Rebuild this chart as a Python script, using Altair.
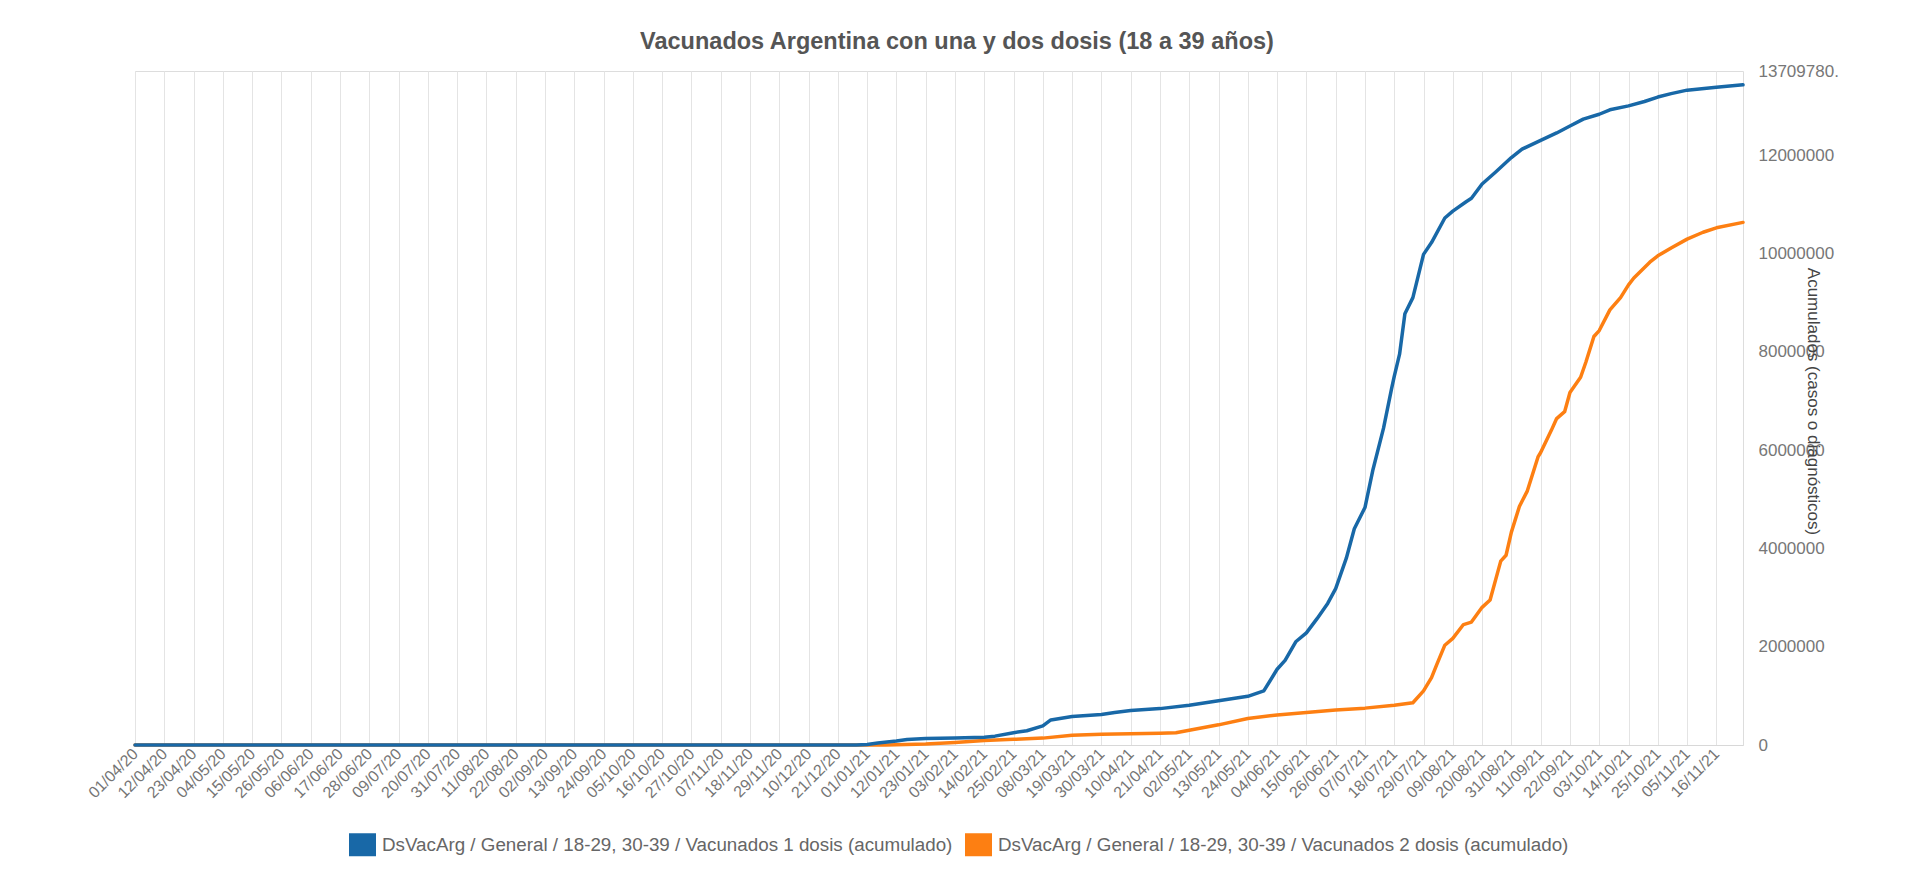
import altair as alt
import pandas as pd

FONT = "Liberation Sans"
TITLE = "Vacunados Argentina con una y dos dosis (18 a 39 años)"
Y_TITLE = "Acumulados (casos o diagnósticos)"
SERIES = [
    "DsVacArg / General / 18-29, 30-39 / Vacunados 1 dosis (acumulado)",
    "DsVacArg / General / 18-29, 30-39 / Vacunados 2 dosis (acumulado)",
]
COLORS = ["#1868a7", "#fd7f12"]

X_TICK_LABELS = [
    "01/04/20", "12/04/20", "23/04/20", "04/05/20", "15/05/20", "26/05/20",
    "06/06/20", "17/06/20", "28/06/20", "09/07/20", "20/07/20", "31/07/20",
    "11/08/20", "22/08/20", "02/09/20", "13/09/20", "24/09/20", "05/10/20",
    "16/10/20", "27/10/20", "07/11/20", "18/11/20", "29/11/20", "10/12/20",
    "21/12/20", "01/01/21", "12/01/21", "23/01/21", "03/02/21", "14/02/21",
    "25/02/21", "08/03/21", "19/03/21", "30/03/21", "10/04/21", "21/04/21",
    "02/05/21", "13/05/21", "24/05/21", "04/06/21", "15/06/21", "26/06/21",
    "07/07/21", "18/07/21", "29/07/21", "09/08/21", "20/08/21", "31/08/21",
    "11/09/21", "22/09/21", "03/10/21", "14/10/21", "25/10/21", "05/11/21",
    "16/11/21",
]
X_END_LABEL = "26/11/21"
Y_TICKS = [0, 2000000, 4000000, 6000000, 8000000, 10000000, 12000000, 13709780]
Y_MAX = 13709780

dosis1_dates = [
    "2020-04-01", "2020-12-28", "2021-01-01", "2021-01-05", "2021-01-12",
    "2021-01-16", "2021-01-23", "2021-02-03", "2021-02-14", "2021-02-18",
    "2021-02-25", "2021-03-02", "2021-03-08", "2021-03-11", "2021-03-19",
    "2021-03-30", "2021-04-04", "2021-04-10", "2021-04-21", "2021-05-02",
    "2021-05-13", "2021-05-24", "2021-05-30", "2021-06-04", "2021-06-07",
    "2021-06-11", "2021-06-15", "2021-06-19", "2021-06-23", "2021-06-26",
    "2021-06-30", "2021-07-03", "2021-07-07", "2021-07-10", "2021-07-14",
    "2021-07-17", "2021-07-18", "2021-07-20", "2021-07-22", "2021-07-25",
    "2021-07-29", "2021-08-01", "2021-08-06", "2021-08-09", "2021-08-14",
    "2021-08-16", "2021-08-20", "2021-08-25", "2021-08-31", "2021-09-04",
    "2021-09-11", "2021-09-17", "2021-09-22", "2021-09-27", "2021-10-03",
    "2021-10-07", "2021-10-14", "2021-10-20", "2021-10-25", "2021-10-30",
    "2021-11-05", "2021-11-16", "2021-11-26",
]
dosis1_values = [
    0, 0, 10000, 40000, 80000,
    110000, 130000, 140000, 160000, 180000,
    250000, 290000, 390000, 510000, 580000,
    620000, 660000, 700000, 740000, 810000,
    900000, 990000, 1100000, 1540000, 1720000,
    2100000, 2280000, 2570000, 2880000, 3180000,
    3800000, 4400000, 4830000, 5600000, 6450000,
    7250000, 7500000, 7950000, 8770000, 9100000,
    9980000, 10220000, 10720000, 10860000, 11050000,
    11120000, 11410000, 11650000, 11950000, 12120000,
    12300000, 12450000, 12590000, 12730000, 12830000,
    12920000, 13000000, 13090000, 13180000, 13250000,
    13320000, 13380000, 13430000,
]

dosis2_dates = [
    "2020-04-01", "2021-01-08", "2021-01-23", "2021-02-03", "2021-02-14",
    "2021-02-25", "2021-03-08", "2021-03-19", "2021-03-30", "2021-04-10",
    "2021-04-21", "2021-04-27", "2021-05-02", "2021-05-13", "2021-05-24",
    "2021-06-04", "2021-06-15", "2021-06-26", "2021-07-07", "2021-07-18",
    "2021-07-25", "2021-07-29", "2021-08-01", "2021-08-03", "2021-08-06",
    "2021-08-09", "2021-08-13", "2021-08-16", "2021-08-20", "2021-08-23",
    "2021-08-27", "2021-08-29", "2021-08-31", "2021-09-03", "2021-09-06",
    "2021-09-10", "2021-09-11", "2021-09-15", "2021-09-17", "2021-09-20",
    "2021-09-22", "2021-09-26", "2021-09-28", "2021-10-01", "2021-10-03",
    "2021-10-07", "2021-10-11", "2021-10-14", "2021-10-16", "2021-10-22",
    "2021-10-25", "2021-10-30", "2021-11-05", "2021-11-11", "2021-11-16",
    "2021-11-26",
]
dosis2_values = [
    0, 0, 20000, 50000, 90000,
    115000, 140000, 200000, 220000, 230000,
    240000, 250000, 300000, 410000, 540000,
    610000, 660000, 710000, 750000, 810000,
    860000, 1100000, 1370000, 1640000, 2030000,
    2170000, 2450000, 2500000, 2800000, 2950000,
    3740000, 3860000, 4330000, 4850000, 5170000,
    5860000, 5950000, 6400000, 6640000, 6780000,
    7170000, 7480000, 7790000, 8310000, 8430000,
    8850000, 9100000, 9360000, 9500000, 9820000,
    9950000, 10110000, 10290000, 10430000, 10520000,
    10630000,
]

rows = []
for serie, dates, values in [
    (SERIES[0], dosis1_dates, dosis1_values),
    (SERIES[1], dosis2_dates, dosis2_values),
]:
    for d, v in zip(dates, values):
        rows.append({"fecha": d, "valor": v, "serie": serie})
df = pd.DataFrame(rows)


def to_dt(label):
    d, m, y = label.split("/")
    return alt.DateTime(year=2000 + int(y), month=int(m), date=int(d), utc=True)


x_ticks = [to_dt(t) for t in X_TICK_LABELS]
x_domain = [to_dt(X_TICK_LABELS[0]), to_dt(X_END_LABEL)]

base = alt.Chart(df).mark_line(
    strokeWidth=3.5, strokeJoin="round", strokeCap="round"
).encode(
    x=alt.X(
        "fecha:T",
        scale=alt.Scale(type="utc", domain=x_domain),
        axis=alt.Axis(
            values=x_ticks,
            labelExpr="utcFormat(datum.value, '%d/%m/%y')",
            labelAngle=-45,
            labelAlign="right",
            labelBaseline="middle",
            labelFont=FONT,
            labelFontSize=16,
            labelColor="#757575",
            labelOverlap=False,
            labelBound=False,
            labelFlush=False,
            labelPadding=6,
            ticks=False,
            grid=True,
            gridColor="#e4e4e4",
            gridWidth=1,
            domain=True,
            domainColor="#d8d8d8",
            domainWidth=1,
            title=None,
        ),
    ),
    y=alt.Y(
        "valor:Q",
        scale=alt.Scale(domain=[0, Y_MAX], nice=False, zero=True),
        axis=alt.Axis(
            orient="right",
            values=Y_TICKS,
            labelExpr="datum.value == 13709780 ? '13709780.' : format(datum.value, 'd')",
            labelFont=FONT,
            labelFontSize=17,
            labelColor="#777777",
            labelPadding=15,
            labelOverlap=False,
            labelBaseline="middle",
            grid=False,
            ticks=False,
            domain=False,
            title=Y_TITLE,
            titleFont=FONT,
            titleFontSize=17,
            titleFontWeight="normal",
            titleColor="#444444",
            titleAngle=90,
            titleAlign="center",
            titleBaseline="middle",
            titleX=69,
            titleY=330,
        ),
    ),
    color=alt.Color(
        "serie:N",
        scale=alt.Scale(domain=SERIES, range=COLORS),
        legend=alt.Legend(
            title=None,
            orient="none",
            legendX=214,
            legendY=760,
            direction="horizontal",
            symbolType="M-1,-0.5H1V0.5H-1Z",
            symbolSize=64,
            symbolStrokeWidth=19,
            labelFont=FONT,
            labelFontSize=18.8,
            labelColor="#666666",
            labelLimit=1000,
            labelOffset=6,
            columnPadding=-17,
        ),
    ),
)

layer_dos = base.transform_filter(alt.datum.serie == SERIES[1])
layer_uno = base.transform_filter(alt.datum.serie == SERIES[0])

chart = (
    alt.layer(layer_dos, layer_uno)
    .properties(
        width=1608,
        height=674,
        title=alt.TitleParams(
            TITLE,
            font=FONT,
            fontSize=23.5,
            fontWeight="bold",
            color="#555555",
            anchor="middle",
            dx=18,
            offset=9,
        ),
        autosize=alt.AutoSizeParams(type="none"),
        padding={"left": 135, "top": 71, "right": 177, "bottom": 137},
    )
    .configure_view(stroke=None)
    .configure(background="white")
)

chart.save("out.html", embed_options={"renderer": "svg", "actions": False})
